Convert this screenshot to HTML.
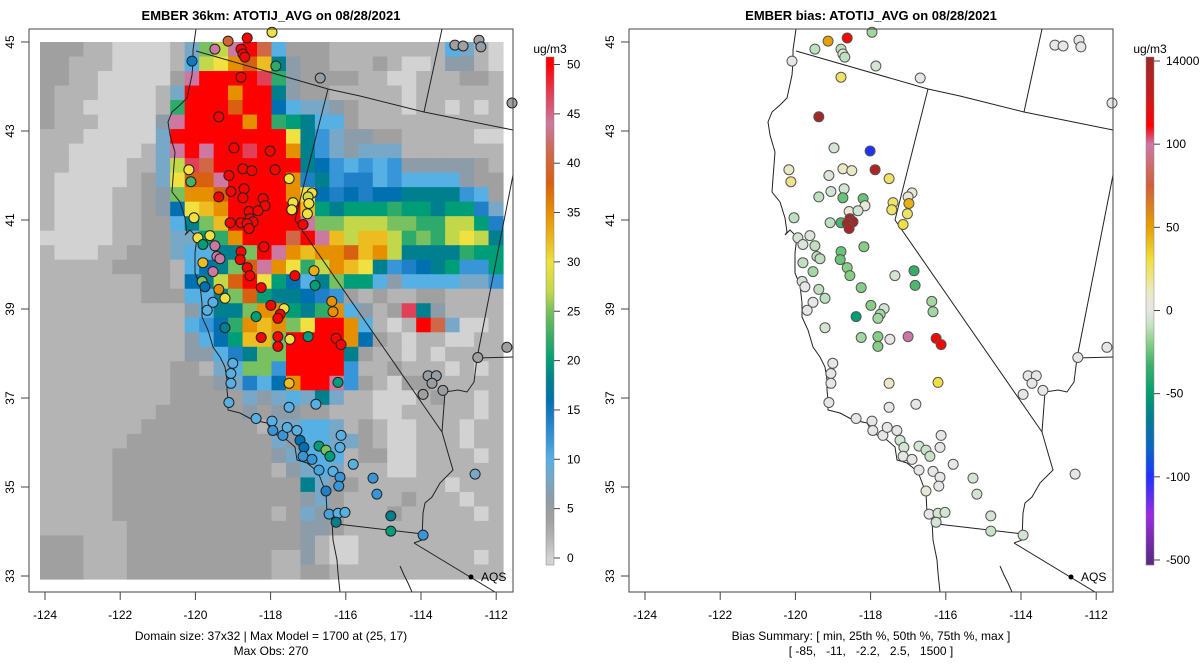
<!DOCTYPE html>
<html><head><meta charset="utf-8"><style>
body{margin:0;background:#fff}
svg{display:block;font-family:"Liberation Sans",sans-serif}
</style></head><body>
<svg id="svg" width="1200" height="672" viewBox="0 0 1200 672" xmlns="http://www.w3.org/2000/svg">
<rect width="1200" height="672" fill="#fff"/>
<g id="leftGrid"></g>
<g id="leftGeo"></g>
<g id="rightGeo"></g>
<g id="leftPts"></g>
<g id="rightPts"></g>
<g id="axes"></g>
<g id="cbars"></g>
<text x="271" y="20" font-size="13" font-weight="bold" text-anchor="middle">EMBER 36km: ATOTIJ_AVG on 08/28/2021</text>
<text x="871" y="20" font-size="13" font-weight="bold" text-anchor="middle">EMBER bias: ATOTIJ_AVG on 08/28/2021</text>
<text x="271" y="640" font-size="12" text-anchor="middle">Domain size: 37x32 | Max Model = 1700 at (25, 17)</text>
<text x="271" y="655" font-size="12" text-anchor="middle">Max Obs: 270</text>
<text x="871" y="640" font-size="12" text-anchor="middle">Bias Summary: [ min, 25th %, 50th %, 75th %, max ]</text>
<text x="871" y="655" font-size="12" text-anchor="middle" xml:space="preserve">[ -85,   -11,   -2.2,   2.5,   1500 ]</text>
</svg>
<script>
// ---- data ----
const gridRows = [
"cccbbaaaabemntvsfcccbbbbbbbbfeba",
"ccbbbaaaabfnoqrpjdccbbbcbaabddba",
"ccbbaaaaactvvvvuldccccbbaabbbccb",
"cbbbaaaabevvvqvvjdccbbbbbabbbbbb",
"cbbaaaaablvvvrvvifeedcbbbabbabab",
"cbbbaaaadtvvvvqvlkjffcbbbbbbbbbb",
"bbbaaaaaevvvvvvvvojgeddccbbbbbaa",
"bbaaaaabetvtvvuvvqjgedeeebbbbbbb",
"bbaaaabbenusvvvvvvjigfgfgdddddcb",
"baaaaabceorrtvvvvqhjghhfgffffdcc",
"baaaabbcdmqqrvvvvqoihihiijjjjgfc",
"baaaabbcdiopqvvvvvpkjkkklkkjkkhe",
"baaaabbccfjmpvvvvvtmmnnnmmllnnkh",
"aaaaabbcceeklqvvvsvtpnppnlmlnonj",
"baaabbccceffjjmvtqpqqrpqnjjjjlkkj",
"bbbbbccccbfijmrtqolnqpojghijkggk",
"bbbbbbbccbijnrvokifjmkkfdffffeeg",
"bbbbbbbcccffjmrkjjihgcbcbbccbbbb",
"bbbbbbbbbbdfjjmqqkjlqfdbcujdbbbb",
"bbbbbbbbbbfgilqpqmovvqfbabvseaab",
"bbbbbbbbbbdfikppmvvvvqicbabbaabb",
"bbbbbbbbbbddfhjmmvvvvjcbbababbbb",
"bbbbbbbbbccbefmmgvvvvgbbcbbbabab",
"bbbbbbbbbcccdehfiqvvtgcbaccbbbbb",
"bbbbbbbbbcccccedefejebbaaabcbbab",
"bbbbbbbbccccccdcddccbbbaabbbbbab",
"bbbbbbbccccccccbeeffebcbaabbbabb",
"bbbbbbccccccccccedffeecbaabbbabb",
"bbbbbcccccccccccdefffbccaabbbbab",
"bbbbbcccccccccccbdefebbbaabbbbbb",
"bbbbbcccccccccccccjedcbbbbbbabbb",
"bbbbbcccccccccccccdecbbbbcbbbabb",
"bbbbbcccccccccccbcedcbbbcbbbbbab",
"bbbbbbccccccccccccddcbbbbbbbbbbb",
"cccbbbccccccccccccdbaabbbbbbbbbb",
"cccbbbccccccccccbbdbaabbbbbbbbab",
"cccbbbccccccccccbbccbbbbbbbbbbbb"];
const levelCodes = "abcdefghijklmnopqrstuv";
const levelValues = [0,2,4,6,8,10,12,14,16,18,20,22,25,27,30,32,35,38,41,44,47,50];
const stLon = [-117.87,-119.00,-118.51,-119.34,-118.67,-118.62,-118.57,-119.93,-117.77,-116.63,-118.67,-119.24,-118.85,-117.92,-120.01,-118.62,-118.39,-117.79,-119.96,-118.98,-117.43,-119.24,-118.93,-118.59,-118.62,-118.10,-118.05,-116.84,-116.94,-117.33,-117.36,-116.92,-118.46,-118.23,-119.88,-118.95,-118.67,-118.44,-118.36,-118.51,-118.46,-116.96,-117.07,-119.78,-119.47,-119.65,-119.34,-119.29,-119.21,-119.65,-119.39,-119.67,-119.60,-119.24,-119.08,-119.39,-119.54,-118.08,-118.67,-118.69,-118.51,-118.44,-117.28,-116.79,-116.76,-118.15,-116.33,-116.30,-117.90,-117.56,-117.66,-117.72,-118.28,-119.08,-118.15,-117.72,-117.41,-116.94,-116.22,-116.09,-117.72,-118.88,-118.93,-118.93,-117.43,-116.17,-118.98,-117.43,-116.74,-118.28,-117.87,-117.85,-117.59,-117.48,-117.23,-117.15,-117.05,-117.07,-116.84,-116.66,-116.48,-116.38,-116.09,-116.12,-116.66,-116.30,-116.12,-116.15,-115.78,-115.27,-115.17,-116.48,-116.40,-116.17,-115.99,-116.22,-114.81,-114.81,-113.98,-113.85,-113.64,-113.75,-113.98,-113.47,-112.64,-112.57,-111.82,-111.69,-113.16,-112.95,-112.54,-112.49];
const stLat = [45.22,45.02,45.09,44.84,44.84,44.73,44.66,44.57,44.46,44.19,44.21,43.32,42.62,42.55,42.13,42.15,42.11,42.13,41.86,42.00,41.93,41.52,41.64,41.70,41.50,41.48,41.32,41.61,41.52,41.39,41.23,41.37,41.19,41.21,41.05,40.94,40.94,41.03,40.96,40.92,40.81,41.14,40.90,40.60,40.65,40.45,40.42,40.18,40.13,40.04,39.84,39.62,39.50,39.44,39.24,39.15,38.97,40.40,40.29,40.11,39.93,39.75,39.75,39.86,39.53,39.48,39.17,38.94,39.08,39.01,38.88,38.79,38.83,38.58,38.36,38.38,38.32,38.38,38.34,38.20,38.16,37.78,37.55,37.33,37.33,37.35,36.90,36.79,36.86,36.54,36.48,36.27,36.16,36.34,36.27,36.05,35.89,35.69,35.62,35.92,35.83,35.69,36.16,35.89,35.38,35.35,35.22,35.02,35.51,35.20,34.84,34.91,34.39,34.41,34.43,34.21,34.35,34.01,33.92,37.50,37.50,37.33,37.08,37.17,35.29,37.91,38.14,43.63,44.93,44.91,45.04,44.89];
const stObs = [30,40,55,44,55,55,55,15,22,5,55,55,55,60,30,55,55,55,23,55,30,55,55,55,55,55,55,30,28,30,30,30,55,55,30,55,55,55,55,55,55,30,50,30,30,20,44,44,44,32,44,25,16,35,30,10,10,55,55,55,55,55,55,33,20,55,35,35,55,30,55,55,20,18,55,55,30,20,55,55,55,10,10,10,32,20,10,10,10,10,10,12,12,10,10,16,16,12,12,20,25,20,10,10,11,10,12,12,10,12,12,14,11,10,10,18,18,20,12,5,5,5,4,5,8,4,4,4,4,4,4,5];
const stBias = [-15,50,200,-10,-10,5,-10,0,-5,0,25,1500,-5,-100,10,10,10,900,20,-3,25,-10,-5,-5,-25,-25,5,5,5,25,25,45,5,-5,-10,-10,-30,1200,1200,1200,1200,25,30,-5,-3,-3,-10,-10,-10,-10,-15,-5,0,-10,-10,0,0,-20,-25,-25,-20,-20,-5,-35,-30,-20,-15,-15,-20,-5,-15,-15,-50,-5,-15,-20,0,100,200,200,-20,0,0,0,10,30,0,0,0,0,0,0,0,0,0,-5,-5,0,0,-5,-8,-8,0,0,0,0,0,0,0,-5,-5,5,0,-5,-5,-5,-5,-8,-5,0,0,0,0,0,0,0,0,0,0,0,0,0];
const latTicks = [33,35,37,39,41,43,45];
const lonTicks = [-124,-122,-120,-118,-116,-114,-112];
const obsTicks = [0,5,10,15,20,25,30,35,40,45,50];
const biasTickLabels = ["-500","-100","-50","0","50","100","14000"];
const biasBreaks = [-500,-100,-50,0,50,100];

// ---- scales ----
const NS="http://www.w3.org/2000/svg";
function mk(tag,attrs,parent){const e=document.createElementNS(NS,tag);for(const k in attrs)e.setAttribute(k,attrs[k]);parent.appendChild(e);return e;}
const yLat = lat => 42 + (45-lat)*44.5;
const xLonR = lon => 634 + (lon+124)*38.83;
const xLonL = lon => xLonR(lon) - 600;
const xTickL = lon => 45 + (lon+124)*37.6;
function hex(h){return [parseInt(h.slice(1,3),16),parseInt(h.slice(3,5),16),parseInt(h.slice(5,7),16)];}
function interp(stops,v){
  if(v<=stops[0][0])return stops[0][1];
  for(let i=1;i<stops.length;i++){if(v<=stops[i][0]){const a=stops[i-1],b=stops[i];const f=(v-a[0])/(b[0]-a[0]);const ca=hex(a[1]),cb=hex(b[1]);return "rgb("+ca.map((x,j)=>Math.round(x+(cb[j]-x)*f)).join(",")+")";}}
  return stops[stops.length-1][1];
}
const obsStops=[[0,"#d2d2d2"],[2,"#b4b4b4"],[4,"#a0a0a0"],[6,"#8c9ca8"],[8,"#78a8c8"],[10,"#56b0e4"],[12,"#3896d8"],[14,"#1f7fc7"],[16,"#0070b0"],[18,"#00808f"],[20,"#009e78"],[22,"#2eaa6a"],[25,"#78c060"],[27,"#c2d84a"],[30,"#f0e040"],[32,"#ecbc20"],[35,"#e69000"],[38,"#d86010"],[41,"#d06848"],[44,"#cc78a0"],[47,"#e04058"],[50,"#ff0000"]];
const obsColor=v=>interp(obsStops,v);
const biasStops=[[0,"#5b2a86"],[0.09,"#9b2be0"],[0.167,"#1e32ff"],[0.22,"#0a64c8"],[0.29,"#00808f"],[0.333,"#009e73"],[0.39,"#3cb06a"],[0.43,"#80cc80"],[0.47,"#c4e2c4"],[0.5,"#e6e6e6"],[0.54,"#ece8c0"],[0.6,"#f0e040"],[0.667,"#e6a000"],[0.75,"#d0603a"],[0.833,"#cc79a7"],[0.85,"#e04060"],[0.87,"#ff0000"],[0.92,"#d01818"],[1,"#a02828"]];
function biasT(b){
  if(b<=biasBreaks[0])return 0;
  for(let i=1;i<biasBreaks.length;i++){if(b<=biasBreaks[i])return (i-1+(b-biasBreaks[i-1])/(biasBreaks[i]-biasBreaks[i-1]))/6;}
  return 5/6 + Math.min(1, Math.log(b/100)/Math.log(15))/6;
}
const biasColor=b=>interp(biasStops,biasT(b));

// ---- grid ----
const gG=document.getElementById('leftGrid');
const cw=463/32, ch=537/37;
gridRows.forEach((row,r)=>{for(let c=0;c<row.length&&c<32;c++){
  const v=levelValues[levelCodes.indexOf(row[c])];
  const el=mk('rect',{x:(40+c*cw).toFixed(2),y:(42+r*ch).toFixed(2),width:(cw+0.6).toFixed(2),height:(ch+0.6).toFixed(2),fill:obsColor(v)},gG);
  
  
}});

// ---- basemap (right-panel pixel geometry) ----
const geo=[
 [[796,29],[793,50],[793,62],[792,75],[787,98],[780,105],[772,112],[768,122],[770,135],[775,152],[773,178],[772,192],[780,202],[785,218],[787,232],[785,235],[790,230],[797,237],[795,253],[795,273],[800,285],[802,303],[802,317],[808,330],[813,347],[820,357],[825,367],[827,380],[827,390],[828,400],[828,410],[840,413],[853,420],[867,423],[873,433],[887,440],[895,447],[897,460],[907,463],[918,472],[926,493],[927,513],[932,520],[933,540],[937,560],[938,573],[940,592]],
 [[796,51],[928,89],[960,96],[1024,112],[1113,130]],
 [[928,89],[895,220],[1042,432]],
 [[1024,112],[1042,29]],
 [[1113,175],[1077,358]],
 [[1077,358],[1113,357]],
 [[1077,358],[1074,382],[1067,392],[1058,390],[1045,392],[1042,432],[1048,453],[1053,470],[1040,483],[1032,497],[1025,503],[1023,513],[1022,540],[1014,543]],
 [[1014,543],[1095,592]],
 [[937,524],[1023,534]],
 [[1000,566],[1004,575],[1008,583],[1012,592]]
];
function drawGeo(g,dx,x0,x1){
  const cp=mk('clipPath',{id:'clip'+dx},g);mk('rect',{x:x0,y:29,width:x1-x0,height:563},cp);
  geo.forEach(line=>{const el=mk('polyline',{points:line.map(p=>(p[0]+dx)+","+p[1]).join(" "),fill:"none",stroke:"#222","stroke-width":"1","clip-path":"url(#clip"+dx+")"},g);
  
  });
}
drawGeo(document.getElementById('leftGeo'),-600,29,513);
drawGeo(document.getElementById('rightGeo'),0,629,1113);

// ---- points ----
const lp=document.getElementById('leftPts'), rp=document.getElementById('rightPts');
for(let i=0;i<stLon.length;i++){
  const y=yLat(stLat[i]);
  const a=mk('circle',{cx:xLonL(stLon[i]).toFixed(1),cy:y.toFixed(1),r:5,fill:obsColor(stObs[i]),stroke:"#222","stroke-width":"1"},lp);
  
  
  const b=mk('circle',{cx:xLonR(stLon[i]).toFixed(1),cy:y.toFixed(1),r:5,fill:biasColor(stBias[i]),stroke:"#555","stroke-width":"1"},rp);
  
  
}

// ---- axes ----
const ax=document.getElementById('axes');
[[0,'left'],[600,'right']].forEach(([dx,nm])=>{
  const box=mk('rect',{x:29+dx,y:29,width:484,height:563,fill:"none",stroke:"#444","stroke-width":"1"},ax);
  
  
  lonTicks.forEach(l=>{const x=xTickL(l)+dx;
    mk('line',{x1:x,y1:592,x2:x,y2:600,stroke:"#444"},ax);
    const t=mk('text',{x:x,y:619,"font-size":"12","text-anchor":"middle"},ax);t.textContent=l;
    
    });
  latTicks.forEach(l=>{const y=yLat(l);
    mk('line',{x1:21+dx,y1:y,x2:29+dx,y2:y,stroke:"#444"},ax);
    const t=mk('text',{x:14+dx,y:y,"font-size":"12","text-anchor":"middle",transform:"rotate(-90 "+(14+dx)+" "+y+")"},ax);t.textContent=l;
    
    });
  mk('circle',{cx:471+dx,cy:577,r:2.5,fill:"#000"},ax);
  const aq=mk('text',{x:481+dx,y:581,"font-size":"12"},ax);aq.textContent="AQS";
  
  
});

// ---- colorbars ----
const cb=document.getElementById('cbars');
const yObs=v=>558-v*9.87;
for(let y=57;y<565;y+=1){const v=(558-y-0.5)/9.87;mk('rect',{x:546,y:y,width:8,height:1.2,fill:obsColor(v)},cb);}
mk('rect',{x:546,y:57,width:8,height:508,fill:"none",stroke:"#888","stroke-width":"0.5"},cb);
obsTicks.forEach(v=>{const y=yObs(v);mk('line',{x1:554,y1:y,x2:560,y2:y,stroke:"#444"},cb);
  const t=mk('text',{x:567,y:y+4,"font-size":"12"},cb);t.textContent=v;
  
  });
let u=mk('text',{x:550,y:53,"font-size":"12","text-anchor":"middle"},cb);u.textContent="ug/m3";


const yBias=t=>560-t*499;
for(let y=57;y<565;y+=1){const t=(560-y-0.5)/499;mk('rect',{x:1146,y:y,width:8,height:1.2,fill:interp(biasStops,t)},cb);}
mk('rect',{x:1146,y:57,width:8,height:508,fill:"none",stroke:"#888","stroke-width":"0.5"},cb);
biasTickLabels.forEach((s,i)=>{const y=yBias(i/6);mk('line',{x1:1154,y1:y,x2:1160,y2:y,stroke:"#444"},cb);
  const t=mk('text',{x:1166,y:y+4,"font-size":"12"},cb);t.textContent=s;
  
  });
u=mk('text',{x:1150,y:53,"font-size":"12","text-anchor":"middle"},cb);u.textContent="ug/m3";


</script>
</body></html>
